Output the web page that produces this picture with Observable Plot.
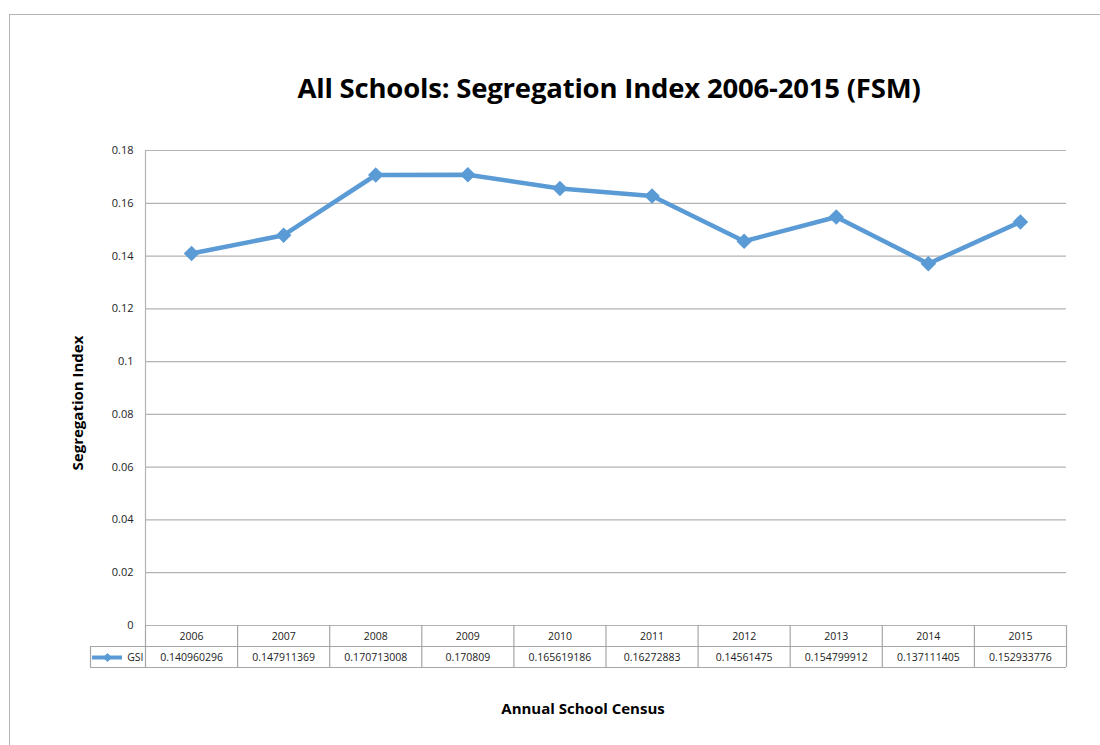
<!DOCTYPE html>
<html>
<head>
<meta charset="utf-8">
<script src="https://cdn.jsdelivr.net/npm/d3@7"></script>
<script src="https://cdn.jsdelivr.net/npm/@observablehq/plot@0.6"></script>
<style>
  html, body { margin: 0; padding: 0; background: #fff; }
  #wrap { position: relative; width: 1100px; height: 745px; overflow: hidden; font-family: "Open Sans", "Lato", sans-serif; }
  #frame { position: absolute; left: 9px; top: 14px; width: 1200px; height: 800px; border-top: 1.5px solid #b5b5b5; border-left: 1.5px solid #b5b5b5; }
  #chart { position: absolute; left: 0; top: 0; }
  .lbl { position: absolute; font-weight: bold; color: #000; white-space: nowrap; }
  #title { left: 609px; top: 87px; transform: translate(-50%, -50%); font-size: 27.5px; letter-spacing: -0.2px; }
  #xlabel { left: 583px; top: 708px; transform: translate(-50%, -50%); font-size: 15px; }
  #ylabel { left: 77px; top: 403px; transform: translate(-50%, -50%) rotate(-90deg); font-size: 15px; }
</style>
</head>
<body>
<div id="wrap">
  <div id="frame"></div>
  <div id="chart"></div>
  <div id="title" class="lbl">All Schools: Segregation Index 2006-2015 (FSM)</div>
  <div id="ylabel" class="lbl">Segregation Index</div>
  <div id="xlabel" class="lbl">Annual School Census</div>
</div>
<script>
// ---- data ----
const years = [2006, 2007, 2008, 2009, 2010, 2011, 2012, 2013, 2014, 2015];
const gsi = [0.140960296, 0.147911369, 0.170713008, 0.170809, 0.165619186, 0.16272883, 0.14561475, 0.154799912, 0.137111405, 0.152933776];
const gsiLabels = ["0.140960296", "0.147911369", "0.170713008", "0.170809", "0.165619186", "0.16272883", "0.14561475", "0.154799912", "0.137111405", "0.152933776"];
const yTicks = [0, 0.02, 0.04, 0.06, 0.08, 0.1, 0.12, 0.14, 0.16, 0.18];
const seriesName = "GSI";

// ---- derived table ----
const rows = years.map((yr, i) => ({year: yr, value: gsi[i], label: gsiLabels[i]}));
const xDomain = [years[0] - 0.5, years[years.length - 1] + 0.5];
const bounds = years.map(y => y - 0.5).concat([xDomain[1]]);

const blue = "#5B9BD5";
const grid = "#b3b3b3";
const tableLine = "#a6a6a6";
const font = "Open Sans, Lato, sans-serif";

const chart = Plot.plot({
  width: 1100,
  height: 745,
  marginLeft: 145,
  marginRight: 34,
  marginTop: 150,
  marginBottom: 120,
  style: {fontFamily: font, background: "transparent", overflow: "visible"},
  x: {domain: xDomain, axis: null},
  y: {domain: [0, 0.18], axis: null},
  marks: [
    Plot.gridY(yTicks, {stroke: grid, strokeOpacity: 1, strokeWidth: 1.2}),
    Plot.axisY(yTicks, {label: null, tickSize: 0, tickPadding: 12, fontSize: 11, fill: "#222", tickFormat: d => String(+d.toFixed(2))}),
    Plot.ruleX([xDomain[0]], {y1: 0, y2: 0.18, stroke: grid, strokeWidth: 1.2}),
    // table: vertical cell borders
    Plot.ruleX(bounds, {y1: 0, y2: 0, insetBottom: -42, stroke: tableLine, strokeWidth: 1.2}),
    Plot.ruleX([xDomain[0]], {y1: 0, y2: 0, insetTop: 21, insetBottom: -42, dx: -55, stroke: tableLine, strokeWidth: 1.2}),
    // table: horizontal lines
    Plot.ruleY([0], {x1: xDomain[0], x2: xDomain[1], insetLeft: -55, dy: 21, stroke: tableLine, strokeWidth: 1.2}),
    Plot.ruleY([0], {x1: xDomain[0], x2: xDomain[1], insetLeft: -55, dy: 42, stroke: tableLine, strokeWidth: 1.2}),
    // table text
    Plot.text(rows, {x: "year", y: 0, dy: 11, text: d => String(d.year), fontSize: 10.5, fill: "#222"}),
    Plot.text(rows, {x: "year", y: 0, dy: 32, text: "label", fontSize: 10.5, fill: "#222"}),
    // legend key in table
    Plot.ruleY([0], {x1: xDomain[0], x2: xDomain[0], insetLeft: -53, insetRight: 23, dy: 32, stroke: blue, strokeWidth: 4}),
    Plot.dot([0], {x: () => xDomain[0], y: 0, dx: -38, dy: 32, symbol: "diamond2", r: 4, fill: blue, stroke: "none"}),
    Plot.text([seriesName], {x: () => xDomain[0], y: 0, dx: -2, dy: 32, text: d => d, textAnchor: "end", fontSize: 10.5, fill: "#222"}),
    // series
    Plot.line(rows, {x: "year", y: "value", stroke: blue, strokeWidth: 4.5, strokeLinejoin: "round"}),
    Plot.dot(rows, {x: "year", y: "value", symbol: "diamond2", r: 7, fill: blue, stroke: "none"})
  ]
});
document.getElementById("chart").appendChild(chart);
</script>
</body>
</html>
